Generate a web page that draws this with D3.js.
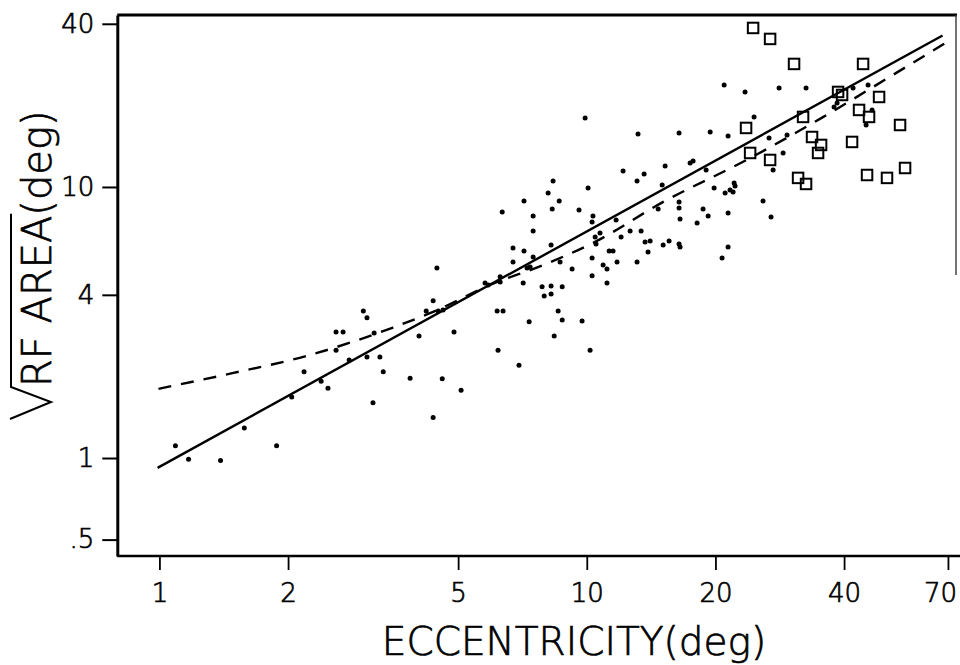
<!DOCTYPE html>
<html>
<head>
<meta charset="utf-8">
<script src="https://cdn.jsdelivr.net/npm/d3@7"></script>
<style>
  html, body { margin: 0; padding: 0; background: #fff; }
  svg { display: block; }
  text { font-family: "DejaVu Sans", sans-serif; font-weight: 200; fill: #000; stroke: #000; stroke-width: 0.7px; }
</style>
</head>
<body>
<svg id="chart" width="960" height="665"></svg>
<script>
// ---------- data ----------
const xTicks = [1, 2, 5, 10, 20, 40, 70];
const xTickLabels = ["1", "2", "5", "10", "20", "40", "70"];
const yTicks = [0.5, 1, 4, 10, 40];
const yTickLabels = [".5", "1", "4", "10", "40"];

// filled dots: eccentricity (deg) and sqrt RF area (deg)
const dotEcc = [
  1.09,1.17,1.39,1.58,1.88,2.04,2.18,2.39,2.48,2.59,
  2.69,2.59,2.78,3.00,3.06,3.18,3.06,3.28,3.34,3.16,
  3.86,4.59,5.08,4.37,4.05,4.89,4.21,4.37,4.46,4.49,
  4.61,5.78,5.88,6.27,6.27,6.17,6.37,6.20,6.94,6.72,
  7.13,6.72,7.49,7.49,7.25,7.37,7.10,7.86,8.25,8.76,
  7.95,8.25,8.57,8.76,7.33,8.39,9.75,10.18,9.24,8.66,
  10.29,10.29,10.92,11.15,11.15,11.77,11.28,11.52,10.46,10.51,
  8.25,10.74,12.03,12.63,13.40,13.11,13.69,14.07,13.91,15.09,
  15.58,16.44,16.53,9.91,13.18,16.44,12.16,13.62,13.11,15.25,
  15.01,8.34,10.07,8.12,8.62,7.13,6.34,7.49,8.30,9.59,
  10.34,10.29,11.71,14.69,16.44,16.44,16.53,20.96,23.46,28.18,
  32.59,24.63,19.44,21.41,26.70,29.42,28.80,17.45,17.73,19.02,
  27.29,19.86,21.07,21.64,22.00,22.12,22.23,18.71,19.23,18.12,
  21.41,25.85,26.99,21.41,20.73,37.90,38.52,41.98,45.52,46.51,
  45.04
];
const dotSize = [
  1.11,0.99,0.98,1.29,1.11,1.68,2.08,1.92,1.81,2.92,
  2.92,2.50,2.30,3.49,3.29,2.89,2.36,2.36,2.08,1.60,
  1.97,1.96,1.78,1.41,2.82,2.92,3.49,3.80,5.02,3.49,
  3.52,4.42,4.35,4.66,4.46,3.49,3.49,2.50,2.20,5.96,
  5.81,5.29,5.52,6.88,5.02,5.07,4.42,4.28,4.31,4.28,
  3.96,4.03,3.49,3.23,3.18,2.82,3.20,2.50,4.98,5.29,
  5.47,4.70,5.15,4.98,4.42,5.29,5.81,5.81,6.54,6.16,
  6.11,6.77,6.54,6.88,6.88,5.29,6.27,6.32,5.76,6.11,
  6.32,6.16,6.01,17.97,15.69,15.82,11.46,11.17,10.52,11.95,
  10.17,10.52,9.92,9.50,8.88,8.88,8.09,7.82,8.30,8.23,
  7.82,7.43,7.56,8.30,8.80,8.37,7.62,23.79,22.42,23.19,
  23.19,18.13,15.96,15.43,15.17,15.56,13.35,12.27,12.48,11.55,
  11.55,9.92,9.50,9.75,9.58,10.35,10.09,8.30,7.82,7.36,
  8.02,8.88,7.75,6.01,5.47,19.73,20.42,23.19,23.79,19.24,
  16.93
];

// open squares
const squareEcc = [24.50,26.85,30.55,44.31,38.73,39.57,32.07,48.30,43.36,45.76,54.08,23.59,
                   33.66,35.34,34.77,41.76,24.11,26.85,31.22,32.59,45.27,50.41,55.56];
const squareSize = [38.61,35.17,28.44,28.44,22.42,21.85,18.13,21.48,19.24,18.13,16.93,16.51,
                    15.29,14.29,13.35,14.66,13.35,12.58,10.80,10.26,11.07,10.80,11.75];

// solid regression line (straight in log-log)
const solidEcc = [0.99, 68];
const solidSize = [0.92, 36.2];

// dashed curve
const dashEcc = [0.995, 1.49, 2.21, 3.52, 4.37, 5.94, 7.90, 10.35, 15.1, 23.7, 35.7, 51.2, 69.7];
const dashSize = [1.80, 2.06, 2.38, 3.03, 3.46, 4.35, 5.15, 6.22, 8.81, 12.6, 18.1, 25.5, 34.3];

// ---------- layout ----------
const svg = d3.select("#chart");
const pLeft = 117.3, pRight = 957, pTop = 15, pBottom = 556;

const x = d3.scaleLog().domain([0.797, 73.5]).range([pLeft, pRight]);
const y = d3.scaleLog().domain([0.435, 43.1]).range([pBottom, pTop]);

// frame lines (top + partial right)
svg.append("line").attr("x1", pLeft).attr("x2", pRight).attr("y1", pTop).attr("y2", pTop)
  .attr("stroke", "#000").attr("stroke-width", 3);
svg.append("line").attr("x1", pRight - 1).attr("x2", pRight - 1).attr("y1", pTop).attr("y2", 275)
  .attr("stroke", "#444").attr("stroke-width", 1.5);

// axes
const xAxis = d3.axisBottom(x).tickValues(xTicks)
  .tickFormat((d, i) => xTickLabels[i]).tickSizeInner(14).tickSizeOuter(0).tickPadding(8);
const gx = svg.append("g").attr("transform", `translate(0,${pBottom})`).call(xAxis);
gx.select(".domain").attr("stroke", "#000").attr("stroke-width", 2.5)
  .attr("d", `M${pLeft},0H960`);
gx.selectAll(".tick line").attr("stroke", "#000").attr("stroke-width", 1.8);
gx.selectAll(".tick text").attr("font-size", 26).attr("fill", "#000")
  .attr("font-family", '"DejaVu Sans", sans-serif').attr("font-weight", 200)
  .attr("dy", "0.92em");
gx.selectAll(".tick text").filter(d => d === 70).attr("dx", -8);

const yAxis = d3.axisLeft(y).tickValues(yTicks)
  .tickFormat((d, i) => yTickLabels[i]).tickSizeInner(15).tickSizeOuter(0).tickPadding(8);
const gy = svg.append("g").attr("transform", `translate(${pLeft},0)`).call(yAxis);
gy.select(".domain").attr("stroke", "#000").attr("stroke-width", 3);
gy.selectAll(".tick line").attr("stroke", "#000").attr("stroke-width", 2);
gy.selectAll(".tick text").attr("font-size", 26).attr("fill", "#000")
  .attr("font-family", '"DejaVu Sans", sans-serif').attr("font-weight", 200);

// dots
const dots = dotEcc.map((e, i) => ({ e, s: dotSize[i] }));
svg.append("g").selectAll("circle").data(dots).join("circle")
  .attr("cx", d => x(d.e)).attr("cy", d => y(d.s)).attr("r", 2.5).attr("fill", "#000");

// squares
const sq = squareEcc.map((e, i) => ({ e, s: squareSize[i] }));
const side = 10.5;
svg.append("g").selectAll("rect").data(sq).join("rect")
  .attr("x", d => x(d.e) - side / 2).attr("y", d => y(d.s) - side / 2)
  .attr("width", side).attr("height", side)
  .attr("fill", "none").attr("stroke", "#000").attr("stroke-width", 2);

// lines
const solid = solidEcc.map((e, i) => [e, solidSize[i]]);
svg.append("path").datum(solid)
  .attr("d", d3.line().x(d => x(d[0])).y(d => y(d[1])))
  .attr("fill", "none").attr("stroke", "#000").attr("stroke-width", 2.4);

const dash = dashEcc.map((e, i) => [e, dashSize[i]]);
svg.append("path").datum(dash)
  .attr("d", d3.line().x(d => x(d[0])).y(d => y(d[1])).curve(d3.curveMonotoneX))
  .attr("fill", "none").attr("stroke", "#000").attr("stroke-width", 2.4)
  .attr("stroke-dasharray", "13,10");

// x title
svg.append("text").attr("x", 574).attr("y", 655).attr("text-anchor", "middle")
  .attr("font-size", 39).text("ECCENTRICITY(deg)");

// y title with radical sign
const gt = svg.append("g").attr("transform", "translate(51,420) rotate(-90)");
const yt = gt.append("text").attr("x", 33).attr("y", 0).attr("font-size", 40);
const t1 = yt.append("tspan").text("RF AREA");
yt.append("tspan").text("(deg)");
const len1 = t1.node().getComputedTextLength();
gt.append("path")
  .attr("d", `M1,-41L18,0L33,-40H${33 + len1 + 2}`)
  .attr("fill", "none").attr("stroke", "#000").attr("stroke-width", 2);
</script>
</body>
</html>
